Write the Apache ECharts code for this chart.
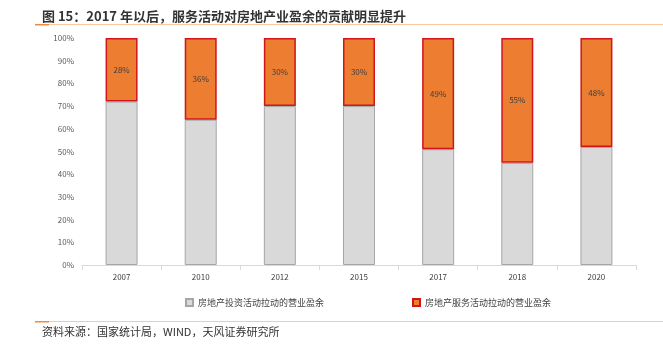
<!DOCTYPE html>
<html>
<head>
<meta charset="utf-8">
<script src="https://cdn.jsdelivr.net/npm/echarts@6/dist/echarts.min.js"></script>
<style>
  html, body { margin: 0; padding: 0; background: #fff; }
  #chart { width: 663px; height: 352px; }
</style>
</head>
<body>
<div id="chart"></div>
<script>
  // 年份
  var years = ['2007', '2010', '2012', '2015', '2017', '2018', '2020'];
  // 投资活动拉动的营业盈余占比（%）
  var investShare = [72, 64, 70, 70, 51, 45, 52];
  // 服务活动拉动的营业盈余占比（%）
  var serviceShare = [28, 36, 30, 30, 49, 55, 48];
  var yTicks = [0, 10, 20, 30, 40, 50, 60, 70, 80, 90, 100];

  var myChart = echarts.init(document.getElementById('chart'));
  myChart.setOption({
    animation: false,
    textStyle: { fontFamily: '"Noto Sans CJK SC", "Noto Sans", sans-serif' },
    title: {
      text: '图 15：2017 年以后，服务活动对房地产业盈余的贡献明显提升',
      left: 37,
      top: 5,
      textStyle: { fontSize: 13, fontWeight: 'bold', color: '#333' }
    },
    graphic: [
      { type: 'rect', shape: { x: 35, y: 24, width: 628, height: 1 }, style: { fill: '#f9c9a0' } },
      { type: 'rect', shape: { x: 35, y: 24, width: 14, height: 1.5 }, style: { fill: '#f08a3c' } },
      { type: 'rect', shape: { x: 35, y: 321, width: 628, height: 1 }, style: { fill: '#f9c9a0' } },
      { type: 'rect', shape: { x: 35, y: 321, width: 14, height: 1.5 }, style: { fill: '#f08a3c' } },
      {
        type: 'text', left: 42, top: 326,
        style: { text: '资料来源：国家统计局，WIND，天风证券研究所', fontSize: 11, fill: '#333',
          fontFamily: '"Noto Sans CJK SC", sans-serif' }
      }
    ],
    legend: {
      bottom: 40,
      left: 180,
      itemGap: 88,
      itemWidth: 7,
      itemHeight: 7,
      icon: 'rect',
      textStyle: { fontSize: 9, color: '#404040' },
      data: ['房地产投资活动拉动的营业盈余', '房地产服务活动拉动的营业盈余']
    },
    grid: { left: 82, right: 27, top: 38, bottom: 87 },
    xAxis: {
      type: 'category',
      data: years,
      axisLine: { lineStyle: { color: '#d9d9d9' } },
      axisTick: { show: true, lineStyle: { color: '#d9d9d9' } },
      axisLabel: { fontSize: 8, color: '#404040', margin: 8 }
    },
    yAxis: {
      type: 'value',
      min: yTicks[0],
      max: yTicks[yTicks.length - 1],
      interval: 10,
      splitLine: { show: false },
      axisLine: { show: false },
      axisTick: { show: false },
      axisLabel: { fontSize: 8, color: '#595959', formatter: '{value}%', margin: 8 }
    },
    series: [
      {
        name: '房地产投资活动拉动的营业盈余',
        type: 'bar',
        stack: 'total',
        barWidth: 32,
        data: investShare,
        itemStyle: { color: '#d9d9d9', borderColor: '#a6a6a6', borderWidth: 1 }
      },
      {
        name: '房地产服务活动拉动的营业盈余',
        type: 'bar',
        stack: 'total',
        barWidth: 32,
        data: serviceShare,
        itemStyle: { color: '#ed7d31', borderColor: '#d0161b', borderWidth: 1.5 },
        label: {
          show: true,
          position: 'inside',
          formatter: '{c}%',
          fontSize: 8,
          color: '#404040'
        }
      }
    ]
  });
</script>
</body>
</html>
